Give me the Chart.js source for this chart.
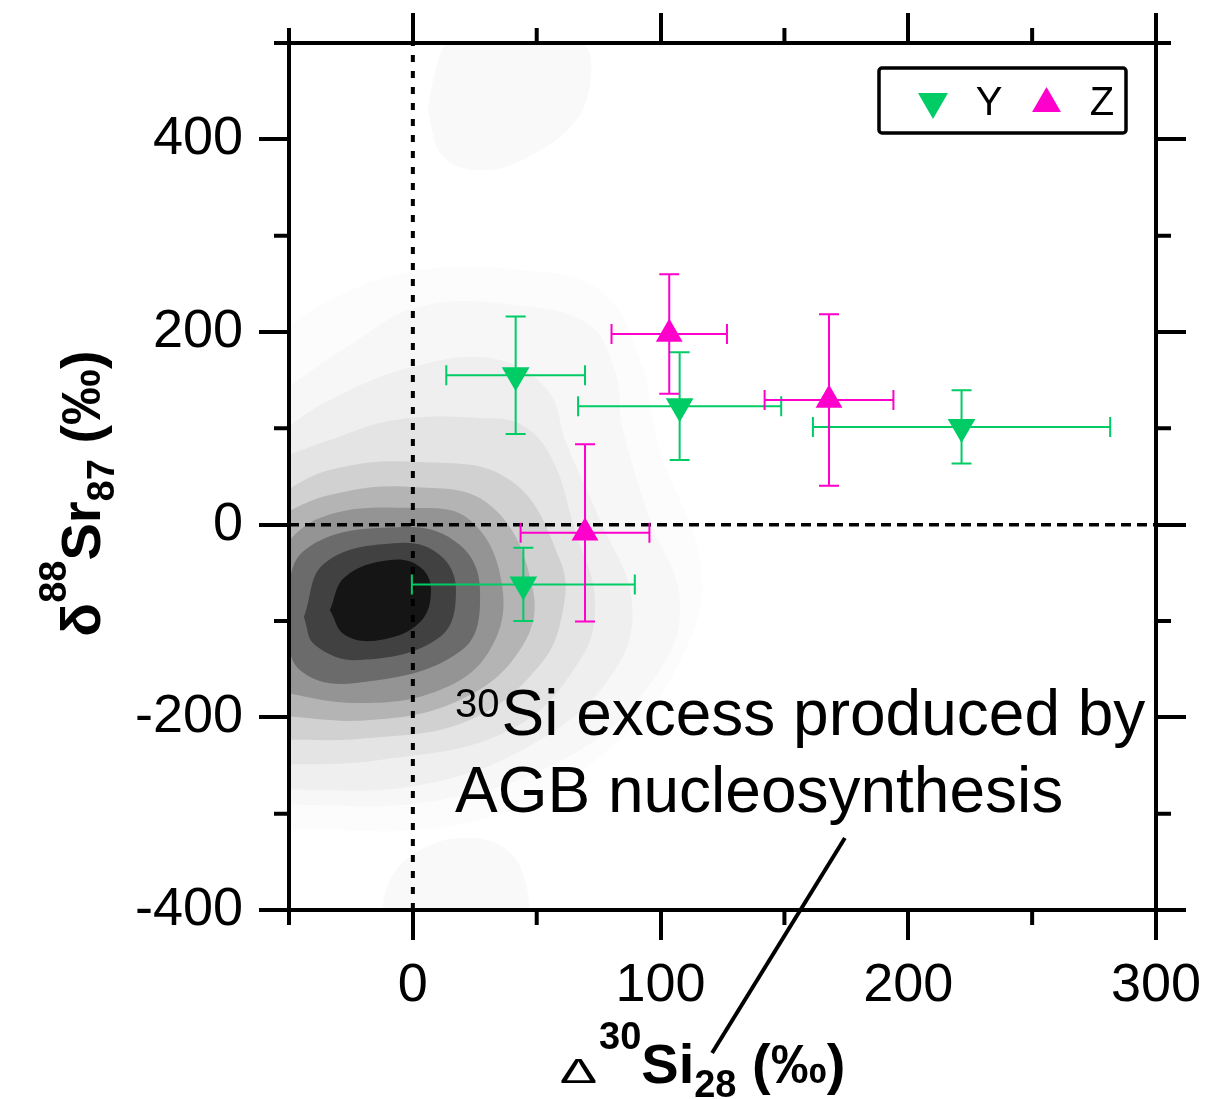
<!DOCTYPE html>
<html><head><meta charset="utf-8">
<script src="https://cdn.jsdelivr.net/npm/chart.js@4.4.1/dist/chart.umd.min.js"></script>
<style>html,body{margin:0;padding:0;background:#fff}canvas{display:block}</style>
</head><body>
<canvas id="c" width="1208" height="1099"></canvas>
<script>
const FONT = "'Liberation Sans', Arial, Helvetica, sans-serif";

// ---- tick values ----
const xMajorTicks = [0, 100, 200, 300];
const xMinorTicks = [-50, 50, 150, 250];
const yMajorTicks = [-400, -200, 0, 200, 400];
const yMinorTicks = [-300, -100, 100, 300, 500];

// ---- series ----
const seriesNames = ['Y', 'Z'];
const seriesColors = ['#00cc66', '#ff00cc'];
const yX    = [41.5, 107.7, 221.5, 44.6];
const yY    = [155, 123, 101.5, -62];
const yXErr = [28, 41, 60, 45];
const yYErr = [61, 56, 38, 38];
const zX    = [103.5, 168, 69.5];
const zY    = [198, 129.5, -8.5];
const zXErr = [23.3, 26, 26];
const zYErr = [62, 89, 92];

// ---- density contours (outer -> inner), [x, y] in data units ----
const contourColors = ['#fcfcfc','#f7f7f7','#efefef','#e4e4e4','#d1d1d1','#b4b4b4','#949494','#6b6b6b','#414141','#151515'];
const contourLevels = [
  [[-57.7,191.7],[-33.5,233.3],[2.9,264.4],[43.2,264.4],[75.5,243.6],[91.7,171],[99.7,77.5],[115.9,-36.7],[111.8,-119.7],[83.6,-223.5],[27.1,-306.6],[-57.7,-317]],
  [[-57.7,129.4],[-25.4,186.6],[3.7,227],[44,227],[71.1,207.5],[82,155.5],[84.4,103.6],[95.7,4.9],[107.8,-78.2],[99.7,-150.9],[67.5,-233.9],[10.9,-285.8],[-57.7,-291]],
  [[-57.7,87.9],[-33.5,129.4],[2.9,165.8],[35.2,171],[54.9,137.8],[61.8,85.9],[75.5,4.9],[88.4,-78.2],[81.6,-150.9],[51.3,-223.5],[2.9,-270.2],[-57.7,-275.4]],
  [[-57.7,65.1],[-33.5,87.9],[-7.2,108.7],[27.1,110.8],[44,103.5],[56.2,68.2],[65.4,-5.5],[73.5,-78.2],[67.5,-140.5],[39.2,-213.2],[-13.3,-244.3],[-57.7,-249.5]],
  [[-57.7,25.6],[-33.5,56.8],[2.9,65.1],[39.2,46.4],[59.4,-36.7],[60.6,-88.6],[51.3,-145.7],[23,-202.8],[-17.3,-221.5],[-57.7,-223.5]],
  [[-57.7,4.9],[-33.5,30.8],[-1.2,39.2],[31.1,20.5],[48.5,-67.8],[43.2,-130.1],[19,-182],[-17.3,-202.8],[-57.7,-197.6]],
  [[-57.7,-36.7],[-37.5,7],[-0.4,17.3],[23,4.9],[36,-62.4],[31.1,-130.1],[10.9,-171.6],[-23,-185.1],[-57.7,-171.6]],
  [[-52,-100],[-43.6,-26.3],[-3.2,-2.4],[19,-21.1],[27.1,-67.8],[19.8,-130.1],[-23,-164.3],[-45.6,-150.8],[-52,-100]],
  [[-44,-95.8],[-35.5,-39.7],[-5.6,-19],[10.9,-31.5],[17.4,-67.8],[10.9,-116.6],[-21.4,-140.5],[-39.5,-124.9],[-44,-95.8]],
  [[-33.5,-88.6],[-27.4,-54.3],[-9.2,-36.7],[2.9,-43.9],[7.3,-67.8],[2.9,-101],[-13.3,-119.7],[-27.4,-114.5],[-33.5,-88.6]]
];
const blobColor = '#f9f9f9';
const blobShapes = [
  [[6,430],[9,470],[14,500],[30,525],[55,525],[69,500],[72,470],[66,420],[46,381],[27,368],[12,383],[6,430]],
  [[-13.3,-421],[-9.2,-369],[2.9,-338],[21,-325],[37.2,-336],[45.3,-369],[47.3,-421]]
];

// ---- reference lines and annotation ----
const zeroLineX = [0, 0],   zeroLineXY = [-400, 500];
const zeroLineYX = [-50, 300], zeroLineY = [0, 0];
const pointerX = [174.4, 120.8], pointerY = [-325.2, -548.5];
const annoX = 17, annoY1 = -218.3, annoY2 = -298.5;
const annoSup = '30', annoLine1 = 'Si excess produced by', annoLine2 = 'AGB nucleosynthesis';

const toXY = (xs, ys) => xs.map((x, i) => ({x, y: ys[i]}));
const pairs = pts => pts.map(([x, y]) => ({x, y}));

const datasets = [];
datasets.push({
  label: seriesNames[0], type: 'scatter', data: toXY(yX, yY),
  xErr: yXErr, yErr: yYErr,
  backgroundColor: seriesColors[0], borderColor: seriesColors[0], borderWidth: 0,
  pointStyle: 'triangle', rotation: 180, pointRadius: 16, order: 2
});
datasets.push({
  label: seriesNames[1], type: 'scatter', data: toXY(zX, zY),
  xErr: zXErr, yErr: zYErr,
  backgroundColor: seriesColors[1], borderColor: seriesColors[1], borderWidth: 0,
  pointStyle: 'triangle', rotation: 0, pointRadius: 15.5, order: 1
});
datasets.push({ type: 'line', data: toXY(zeroLineX, zeroLineXY), borderColor: '#000', borderWidth: 4,
  borderDash: [7, 9], pointRadius: 0, fill: false, order: 40 });
datasets.push({ type: 'line', data: toXY(zeroLineYX, zeroLineY), borderColor: '#000', borderWidth: 3.5,
  borderDash: [10, 6], pointRadius: 0, fill: false, order: 41 });
datasets.push({ type: 'line', data: toXY(pointerX, pointerY), borderColor: '#000', borderWidth: 4,
  pointRadius: 0, fill: false, clip: false, order: 30 });
contourLevels.forEach((pts, i) => datasets.push({
  type: 'line', data: pairs(pts), backgroundColor: contourColors[i], borderColor: contourColors[i],
  borderWidth: 0, pointRadius: 0, fill: 'shape', tension: 0.4, capBezierPoints: false, order: 200 - i
}));
blobShapes.forEach(pts => datasets.push({
  type: 'line', data: pairs(pts), backgroundColor: blobColor, borderColor: blobColor,
  borderWidth: 0, pointRadius: 0, fill: 'shape', tension: 0.4, capBezierPoints: false, order: 250
}));

const AXW = 4;
function axis(pos, show, majors, size) {
  const horiz = pos === 'top' || pos === 'bottom';
  return {
    type: 'linear', position: pos, axis: horiz ? 'x' : 'y',
    min: horiz ? -50 : -400, max: horiz ? 300 : 500,
    afterBuildTicks: s => { s.ticks = majors.map(v => ({value: v})); },
    afterFit: s => {
      if (horiz) s.height = size; else s.width = size;
      s.paddingLeft = s.paddingRight = s.paddingTop = s.paddingBottom = 0;
    },
    grid: { z: 1, drawOnChartArea: false, drawTicks: true, tickLength: 30, lineWidth: AXW, color: '#000' },
    border: { z: 1, display: true, width: AXW, color: '#000' },
    ticks: { z: 1, display: show, font: {family: FONT, size: 54}, color: '#000',
             padding: horiz ? 14 : 16, maxRotation: 0, autoSkip: false }
  };
}

const minorTickPlugin = {
  id: 'minorTicks',
  afterDraw(chart) {
    const ctx = chart.ctx, a = chart.chartArea, sx = chart.scales.x, sy = chart.scales.y, L = 15;
    ctx.save(); ctx.strokeStyle = '#000'; ctx.lineWidth = AXW; ctx.lineCap = 'butt';
    ctx.beginPath();
    xMinorTicks.forEach(v => { const p = sx.getPixelForValue(v);
      ctx.moveTo(p, a.bottom); ctx.lineTo(p, a.bottom + L);
      ctx.moveTo(p, a.top); ctx.lineTo(p, a.top - L); });
    yMinorTicks.forEach(v => { const p = sy.getPixelForValue(v);
      ctx.moveTo(a.left, p); ctx.lineTo(a.left - L, p);
      ctx.moveTo(a.right, p); ctx.lineTo(a.right + L, p); });
    ctx.stroke(); ctx.restore();
  }
};

const errorBarPlugin = {
  id: 'errorBars',
  beforeDatasetDraw(chart, args) {
    const ds = chart.data.datasets[args.index];
    if (!ds.xErr) return;
    const xs = chart.scales.x, ys = chart.scales.y, ctx = chart.ctx, c = 10;
    ctx.save(); ctx.strokeStyle = ds.backgroundColor; ctx.lineWidth = 2; ctx.lineCap = 'butt';
    ctx.beginPath();
    ds.data.forEach((p, i) => {
      const x0 = xs.getPixelForValue(p.x - ds.xErr[i]), x1 = xs.getPixelForValue(p.x + ds.xErr[i]);
      const y0 = ys.getPixelForValue(p.y - ds.yErr[i]), y1 = ys.getPixelForValue(p.y + ds.yErr[i]);
      const cx = xs.getPixelForValue(p.x), cy = ys.getPixelForValue(p.y);
      ctx.moveTo(x0, cy); ctx.lineTo(x1, cy);
      ctx.moveTo(x0, cy - c); ctx.lineTo(x0, cy + c);
      ctx.moveTo(x1, cy - c); ctx.lineTo(x1, cy + c);
      ctx.moveTo(cx, y0); ctx.lineTo(cx, y1);
      ctx.moveTo(cx - c, y0); ctx.lineTo(cx + c, y0);
      ctx.moveTo(cx - c, y1); ctx.lineTo(cx + c, y1);
    });
    ctx.stroke(); ctx.restore();
  }
};

function fontOf(p) { return `${p.bold ? 'bold ' : ''}${p.size}px ${FONT}`; }
function richWidth(ctx, parts) {
  let w = 0;
  parts.forEach(p => { ctx.font = fontOf(p); w += ctx.measureText(p.t).width * (p.sx || 1) + (p.gap || 0); });
  return w;
}
function richText(ctx, parts, startX, baseY) {
  let x = startX;
  parts.forEach(p => {
    ctx.font = fontOf(p);
    const w = ctx.measureText(p.t).width * (p.sx || 1);
    ctx.save();
    ctx.translate(x, baseY + (p.dy || 0));
    ctx.scale(p.sx || 1, p.sy || 1);
    ctx.fillText(p.t, 0, 0);
    ctx.restore();
    x += w + (p.gap || 0);
  });
}

const textPlugin = {
  id: 'texts',
  afterDraw(chart) {
    const ctx = chart.ctx, a = chart.chartArea, sx = chart.scales.x, sy = chart.scales.y;
    ctx.save(); ctx.fillStyle = '#000'; ctx.textBaseline = 'alphabetic'; ctx.textAlign = 'left';
    // x title
    const xParts = [
      {t: 'Δ', size: 56, bold: false, sy: 0.62, gap: 2},
      {t: '30', size: 38, bold: true, dy: -34},
      {t: 'Si', size: 56, bold: true},
      {t: '28', size: 38, bold: true, dy: 14},
      {t: ' (‰)', size: 56, bold: true}
    ];
    const xw = richWidth(ctx, xParts);
    richText(ctx, xParts, (a.left + a.right) / 2 - 20 - xw / 2, a.bottom + 173);
    // y title
    const yParts = [
      {t: 'δ', size: 56, bold: true},
      {t: '88', size: 38, bold: true, dy: -34},
      {t: 'Sr', size: 56, bold: true},
      {t: '87', size: 38, bold: true, dy: 14},
      {t: ' (‰)', size: 56, bold: true}
    ];
    const yw = richWidth(ctx, yParts);
    ctx.save();
    ctx.translate(100, (a.top + a.bottom) / 2 + 17);
    ctx.rotate(-Math.PI / 2);
    richText(ctx, yParts, -yw / 2, 0);
    ctx.restore();
    // annotation
    const ax = sx.getPixelForValue(annoX), ay1 = sy.getPixelForValue(annoY1), ay2 = sy.getPixelForValue(annoY2);
    ctx.font = `40px ${FONT}`;
    ctx.fillText(annoSup, ax, ay1 - 18);
    const sw = ctx.measureText(annoSup).width;
    ctx.font = `64px ${FONT}`;
    ctx.fillText(annoLine1, ax + sw + 2, ay1);
    ctx.fillText(annoLine2, ax, ay2);
    // legend
    const lw = 247, lh = 65, lx = a.right - 277, ly = a.top + 25;
    ctx.lineWidth = 3.5; ctx.strokeStyle = '#000';
    ctx.beginPath();
    if (ctx.roundRect) ctx.roundRect(lx, ly, lw, lh, 3); else ctx.rect(lx, ly, lw, lh);
    ctx.stroke();
    const tri = (cx, cy, r, down, col) => {
      const h = r * 0.866;
      ctx.fillStyle = col; ctx.beginPath();
      if (down) { ctx.moveTo(cx, cy + r); ctx.lineTo(cx - h, cy - r / 2); ctx.lineTo(cx + h, cy - r / 2); }
      else { ctx.moveTo(cx, cy - r); ctx.lineTo(cx - h, cy + r / 2); ctx.lineTo(cx + h, cy + r / 2); }
      ctx.closePath(); ctx.fill();
    };
    tri(lx + 54, ly + 33.7, 17.3, true, seriesColors[0]);
    tri(lx + 167.5, ly + 35.7, 16.7, false, seriesColors[1]);
    ctx.fillStyle = '#000'; ctx.font = `40px ${FONT}`; ctx.textAlign = 'center';
    ctx.fillText(seriesNames[0], lx + 110, ly + 47);
    ctx.fillText(seriesNames[1], lx + 223, ly + 47);
    ctx.restore();
  }
};

new Chart(document.getElementById('c'), {
  type: 'scatter',
  data: { datasets },
  options: {
    responsive: false, maintainAspectRatio: false, devicePixelRatio: 1,
    animation: false, events: [],
    layout: { padding: 0 },
    plugins: { legend: { display: false }, tooltip: { enabled: false }, title: { display: false } },
    scales: {
      x:  axis('bottom', true, xMajorTicks, 189),
      x2: axis('top', false, xMajorTicks, 43),
      y:  axis('left', true, yMajorTicks, 289),
      y2: axis('right', false, yMajorTicks, 52)
    }
  },
  plugins: [minorTickPlugin, errorBarPlugin, textPlugin]
});
</script>
</body></html>
